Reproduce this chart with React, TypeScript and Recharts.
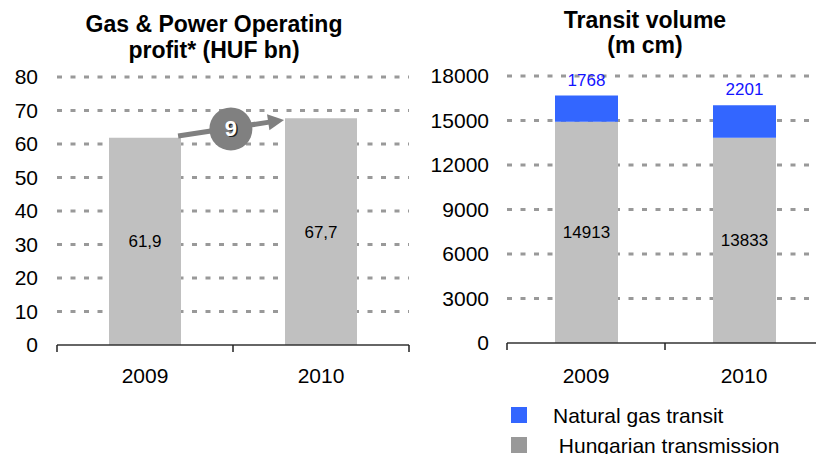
import React from 'react';
import {
  BarChart,
  Bar,
  XAxis,
  YAxis,
  CartesianGrid,
  LabelList,
  ReferenceLine,
  ReferenceDot,
} from 'recharts';

// ---------- data ----------
const years = ['2009', '2010'];
const operatingProfit = [61.9, 67.7];
const profitTicks = [0, 10, 20, 30, 40, 50, 60, 70, 80];

const hungarianTransmission = [14913, 13833];
const naturalGasTransit = [1768, 2201];
const transitTicks = [0, 3000, 6000, 9000, 12000, 15000, 18000];

// annotation on the left chart (x as a 0..1 fraction of the category span, y in HUF bn)
const changeLabel = '9';
const arrowFrom = { x: 0.344, y: 62.4 };
const arrowTo = { x: 0.645, y: 67.2 };
const bubbleAt = { x: 0.494, y: 64.5 };

const legendItems = [
  { label: 'Natural gas transit', color: '#3366FF' },
  { label: ' Hungarian transmission', color: '#999999' },
];

const profitData = years.map((y, i) => ({ year: y, value: operatingProfit[i] }));
const transitData = years.map((y, i) => ({
  year: y,
  hungarian: hungarianTransmission[i],
  transit: naturalGasTransit[i],
}));

const FONT = '"Liberation Sans", Arial, Helvetica, sans-serif';

const makeXTick = (band: number, baseline: number, total: number) => (props: any) => {
  const { x, y, payload, index } = props;
  return (
    <g>
      <line x1={x - band / 2} x2={x - band / 2} y1={y} y2={y + 7} stroke="#222" strokeWidth={1.5} />
      {index === total - 1 ? (
        <line x1={x + band / 2} x2={x + band / 2} y1={y} y2={y + 7} stroke="#222" strokeWidth={1.5} />
      ) : null}
      <text x={x} y={y + baseline} textAnchor="middle" fontSize={21} fill="#000">
        {payload.value}
      </text>
    </g>
  );
};

const ArrowShape = (p: any) => {
  const { x1, y1, x2, y2 } = p;
  const dx = x2 - x1;
  const dy = y2 - y1;
  const len = Math.hypot(dx, dy) || 1;
  const ux = dx / len;
  const uy = dy / len;
  const head = 16;
  const hw = 8;
  const bx = x2 - ux * head;
  const by = y2 - uy * head;
  const px = -uy;
  const py = ux;
  return (
    <g>
      <line x1={x1} y1={y1} x2={bx + ux} y2={by + uy} stroke="#808080" strokeWidth={5} />
      <polygon
        points={`${x2},${y2} ${bx + px * hw},${by + py * hw} ${bx - px * hw},${by - py * hw}`}
        fill="#808080"
      />
    </g>
  );
};

const BubbleShape = (p: any) => {
  const { cx, cy } = p;
  return (
    <g>
      <circle cx={cx} cy={cy} r={21.5} fill="#808080" />
      <text x={cx + 1.5} y={cy + 8.5} textAnchor="middle" fontSize={22} fontWeight="bold" fill="#222">
        {changeLabel}
      </text>
      <text x={cx} y={cy + 7} textAnchor="middle" fontSize={22} fontWeight="bold" fill="#fff">
        {changeLabel}
      </text>
    </g>
  );
};

const commaFmt = (v: any) => Number(v).toFixed(1).replace('.', ',');

export default function App() {
  const leftW = 412;
  const leftMargin = { top: 77, right: 3, left: 0, bottom: 454 - 345 - 30 };
  const leftBand = (leftW - 57 - leftMargin.right) / years.length;

  const rightLeft = 410;
  const rightYW = 97;
  const rightW = 420;
  const rightMargin = { top: 76, right: 7, left: 0, bottom: 454 - 343 - 30 };
  const rightBand = (rightW - rightYW - rightMargin.right) / years.length;

  return (
    <div
      style={{
        position: 'absolute',
        left: 0,
        top: 0,
        width: 816,
        height: 454,
        overflow: 'hidden',
        background: '#fff',
        fontFamily: FONT,
        color: '#000',
      }}
    >
      {/* Left chart */}
      <div style={{ position: 'absolute', left: 0, top: 0 }}>
        <BarChart width={leftW} height={454} data={profitData} margin={leftMargin}>
          <CartesianGrid
            vertical={false}
            horizontalValues={profitTicks.slice(1)}
            stroke="#999"
            strokeWidth={3}
            strokeDasharray="5 8.5"
          />
          <XAxis
            dataKey="year"
            height={30}
            interval={0}
            tickLine={false}
            tickSize={0}
            tickMargin={0}
            axisLine={{ stroke: '#333', strokeWidth: 1.5 }}
            tick={makeXTick(leftBand, 38, years.length)}
          />
          <XAxis xAxisId="n" type="number" domain={[0, 1]} allowDataOverflow hide />
          <YAxis
            width={57}
            domain={[0, 80]}
            ticks={profitTicks}
            interval={0}
            axisLine={false}
            tickLine={false}
            tickSize={0}
            tickMargin={19}
            tick={{ fill: '#000', fontSize: 21 }}
          />
          <Bar dataKey="value" fill="#C0C0C0" barSize={72} isAnimationActive={false}>
            <LabelList dataKey="value" position="center" formatter={commaFmt} fill="#000" fontSize={17} />
          </Bar>
          <ReferenceLine
            xAxisId="n"
            segment={[arrowFrom, arrowTo]}
            ifOverflow="visible"
            shape={ArrowShape}
          />
          <ReferenceDot
            xAxisId="n"
            x={bubbleAt.x}
            y={bubbleAt.y}
            r={21}
            ifOverflow="visible"
            shape={BubbleShape}
          />
        </BarChart>
      </div>

      {/* Right chart */}
      <div style={{ position: 'absolute', left: rightLeft, top: 0 }}>
        <BarChart width={rightW} height={454} data={transitData} margin={rightMargin}>
          <CartesianGrid
            vertical={false}
            horizontalValues={transitTicks.slice(1)}
            stroke="#999"
            strokeWidth={3}
            strokeDasharray="5 8.5"
          />
          <XAxis
            dataKey="year"
            height={30}
            interval={0}
            tickLine={false}
            tickSize={0}
            tickMargin={0}
            axisLine={{ stroke: '#333', strokeWidth: 1.5 }}
            tick={makeXTick(rightBand, 39.5, years.length)}
          />
          <YAxis
            width={rightYW}
            domain={[0, 18000]}
            ticks={transitTicks}
            interval={0}
            axisLine={false}
            tickLine={false}
            tickSize={0}
            tickMargin={18}
            tick={{ fill: '#000', fontSize: 21 }}
          />
          <Bar dataKey="hungarian" stackId="a" fill="#C0C0C0" barSize={63} isAnimationActive={false}>
            <LabelList dataKey="hungarian" position="center" fill="#000" fontSize={17} />
          </Bar>
          <Bar dataKey="transit" stackId="a" fill="#3366FF" barSize={63} isAnimationActive={false}>
            <LabelList dataKey="transit" position="top" offset={10} fill="#1414FF" fontSize={17} />
          </Bar>
        </BarChart>
      </div>

      {/* Left title */}
      <div
        style={{
          position: 'absolute',
          left: 0,
          top: 11,
          width: 428,
          textAlign: 'center',
          fontSize: 23,
          fontWeight: 'bold',
          lineHeight: '26px',
        }}
      >
        Gas &amp; Power Operating
        <br />
        profit* (HUF bn)
      </div>

      {/* Right title */}
      <div
        style={{
          position: 'absolute',
          left: 445,
          top: 8,
          width: 400,
          textAlign: 'center',
          fontSize: 23,
          fontWeight: 'bold',
          lineHeight: '25px',
        }}
      >
        Transit volume
        <br />
        (m cm)
      </div>

      {/* Legend */}
      {legendItems.map((item, i) => (
        <React.Fragment key={item.label}>
          <div
            style={{
              position: 'absolute',
              left: 511,
              top: 407 + i * 30,
              width: 16,
              height: 16,
              background: item.color,
            }}
          />
          <div
            style={{
              position: 'absolute',
              left: 553,
              top: 403.7 + i * 30,
              fontSize: 21,
              lineHeight: '24px',
              whiteSpace: 'pre',
            }}
          >
            {item.label}
          </div>
        </React.Fragment>
      ))}
    </div>
  );
}
